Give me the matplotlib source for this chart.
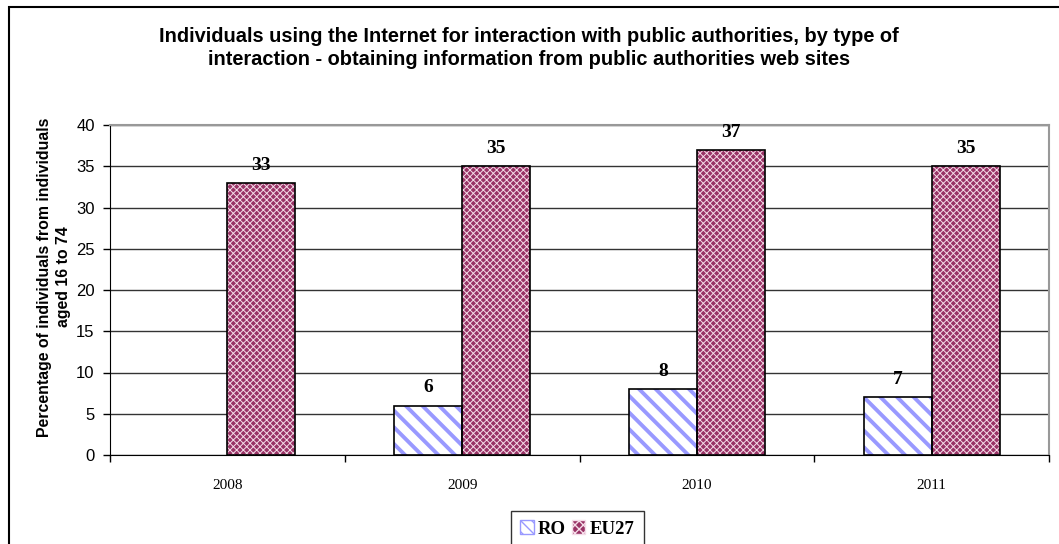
import matplotlib.pyplot as plt
import matplotlib.patches as mpatches
import numpy as np

# data
years = ['2008', '2009', '2010', '2011']
ro = [0, 6, 8, 7]
eu27 = [33, 35, 37, 35]

fig = plt.figure(figsize=(10.59, 5.44), dpi=100)
W, H = 1059.0, 544.0
ax = fig.add_axes([110 / W, 1 - 455 / H, (1049 - 110) / W, (455 - 125) / H])

x = np.arange(len(years))
w = 0.29

# RO bars: white with blue diagonal stripes
with plt.rc_context({'hatch.linewidth': 2.8, 'hatch.color': '#9999ff'}):
    ax.bar(x - w / 2, ro, w, color='white', edgecolor='#9999ff', linewidth=0,
           hatch='\\\\', zorder=3)
# EU27 bars: maroon with white lattice
with plt.rc_context({'hatch.linewidth': 0.7, 'hatch.color': '#f4dce8'}):
    ax.bar(x + w / 2, eu27, w, color='#993366', edgecolor='#f4dce8', linewidth=0,
           hatch='xxxxx', zorder=3)
# black outlines
ro_out = ax.bar(x - w / 2, ro, w, fill=False, edgecolor='black', linewidth=1.2, zorder=4)
ax.bar(x + w / 2, eu27, w, fill=False, edgecolor='black', linewidth=1.2, zorder=4)
for p, v in zip(ro_out.patches, ro):
    if v == 0:
        p.set_linewidth(0)

# value labels
for i in range(len(years)):
    if ro[i] > 0:
        ax.text(x[i] - w / 2, ro[i] + 1.1, str(ro[i]), ha='center', va='bottom',
                family='Liberation Serif', fontweight='bold', fontsize=14)
    ax.text(x[i] + w / 2, eu27[i] + 1.1, str(eu27[i]), ha='center', va='bottom',
            family='Liberation Serif', fontweight='bold', fontsize=14)

ax.set_xlim(-0.5, len(years) - 0.5)
ax.set_ylim(0, 40)
ax.set_yticks(range(0, 41, 5))
ax.yaxis.grid(True, color='#333333', linewidth=1)
ax.set_axisbelow(True)
ax.tick_params(axis='y', direction='out', length=5, width=1, labelsize=12, pad=6)
for t in ax.get_yticklabels():
    t.set_family('Liberation Sans')

ax.set_xticks(x)
ax.set_xticklabels(years, family='Liberation Serif', fontsize=11)
ax.tick_params(axis='x', which='major', length=0, pad=17)
ax.set_xticks(np.arange(-0.5, len(years), 1), minor=True)
ax.tick_params(axis='x', which='minor', direction='out', length=5, width=1)

for s in ['top', 'right']:
    ax.spines[s].set_color('#999999')
    ax.spines[s].set_linewidth(1.5)
ax.spines['left'].set_color('black')
ax.spines['bottom'].set_color('black')

fig.text(54 / W, 1 - 277 / H,
         'Percentage of individuals from individuals\naged 16 to 74',
         rotation=90, ha='center', va='center', family='Liberation Sans',
         fontweight='bold', fontsize=11.4, linespacing=1.35)

fig.text(529 / W, 1 - 48 / H,
         'Individuals using the Internet for interaction with public authorities, by type of\n'
         'interaction - obtaining information from public authorities web sites',
         ha='center', va='center', family='Liberation Sans', fontweight='bold',
         fontsize=14.4, linespacing=1.25)

# outer chart border
fig.patches.append(mpatches.Rectangle((9 / W, -0.1), 1.2, 1 - 7 / H + 0.1,
                                      transform=fig.transFigure, fill=False,
                                      edgecolor='black', linewidth=1.5))

# legend
h_ro = mpatches.Patch(facecolor='white', edgecolor='#9999ff', hatch='\\\\\\')
h_eu = mpatches.Patch(facecolor='#993366', edgecolor='#f4dce8', hatch='xxxx')
leg = fig.legend([h_ro, h_eu], ['RO', 'EU27'], loc='upper left',
                 bbox_to_anchor=(511 / W, 1 - 511 / H), borderaxespad=0,
                 ncol=2, frameon=True, fancybox=False, edgecolor='black',
                 handlelength=0.7, handleheight=0.7, handletextpad=0.25,
                 columnspacing=0.3, borderpad=0.5,
                 prop={'family': 'Liberation Serif', 'weight': 'bold', 'size': 13.5})
leg.get_frame().set_linewidth(1)

fig.savefig('out.png', dpi=100)
